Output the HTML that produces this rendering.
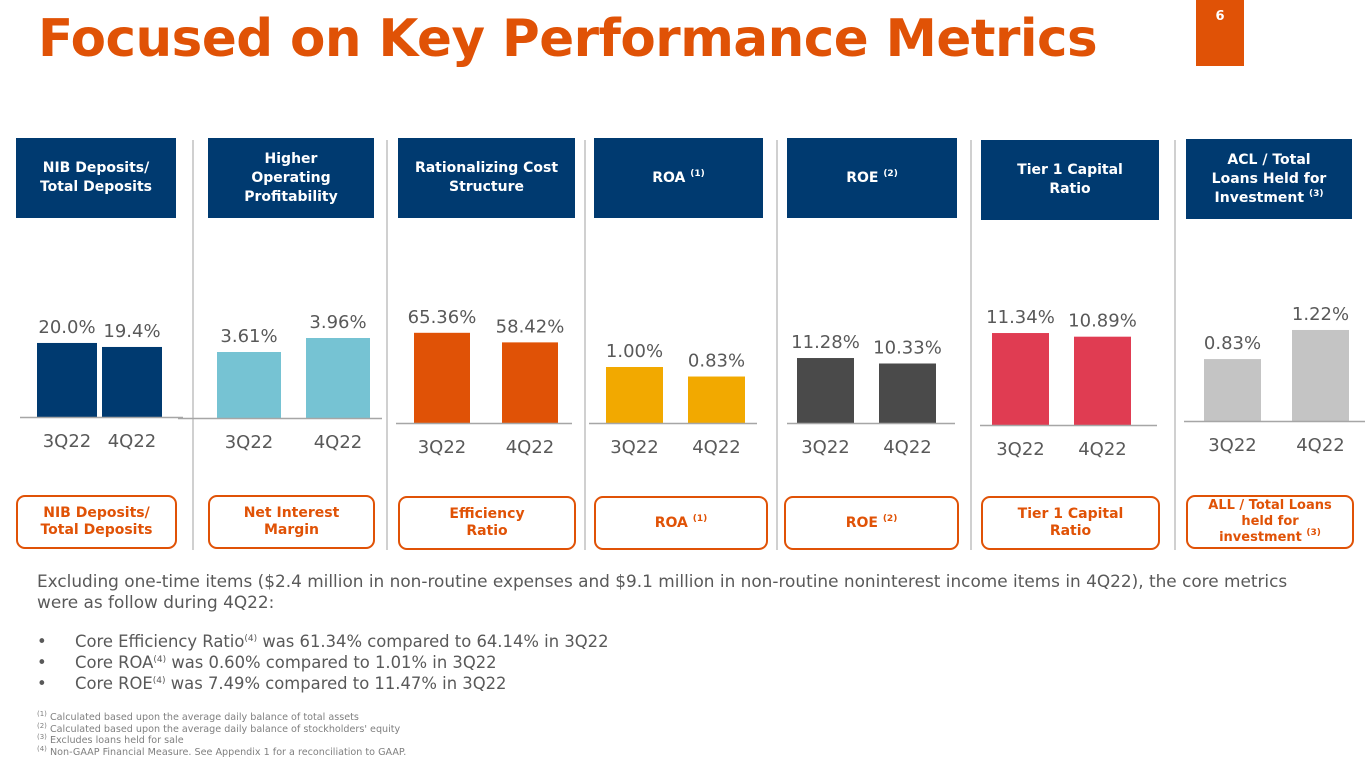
<!DOCTYPE html>
<html><head><meta charset="utf-8">
<style>
*{margin:0;padding:0;box-sizing:border-box}
body{width:1365px;height:768px;background:#fff;position:relative;overflow:hidden;font-family:"DejaVu Sans","Liberation Sans",sans-serif}
.abs{position:absolute}
#title{left:38px;top:9px;font-size:51.5px;font-weight:bold;color:#E05206;letter-spacing:-0.5px;white-space:nowrap}
#pg{left:1196px;top:0;width:48px;height:66px;background:#E05206;color:#fff;font-size:13px;font-weight:bold;text-align:center;padding-top:9px}
.hdr{background:#003A70;color:#fff;font-weight:bold;font-size:14px;line-height:19px;display:flex;align-items:center;justify-content:center;text-align:center}
.ftr{border:2px solid #E05206;border-radius:9px;color:#E05206;font-weight:bold;font-size:14px;line-height:17px;display:flex;align-items:center;justify-content:center;text-align:center;background:#fff}
sup{font-size:9px;vertical-align:6px;line-height:0}
.div{width:2px;background:#d0d0d0;top:140px;height:410px}
#body{left:37px;top:571px;width:1285px;font-size:16.9px;color:#595959;line-height:21px}
.bl{left:75px;font-size:16.4px;color:#595959;white-space:nowrap}
.bl span.b{position:absolute;left:-38px}
#notes{left:37px;top:712px;font-size:9.6px;color:#7f7f7f;line-height:11.5px}
#notes sup{font-size:7px;vertical-align:4px}
</style></head><body>
<div id="title" class="abs">Focused on Key Performance Metrics</div>
<div id="pg" class="abs">6</div>

<div class="abs hdr" style="left:16px;top:138px;width:160px;height:80px"><span>NIB Deposits/<br>Total Deposits</span></div>
<div class="abs hdr" style="left:208px;top:138px;width:166px;height:80px"><span>Higher<br>Operating<br>Profitability</span></div>
<div class="abs hdr" style="left:398px;top:138px;width:177px;height:80px"><span>Rationalizing Cost<br>Structure</span></div>
<div class="abs hdr" style="left:594px;top:138px;width:169px;height:80px"><span>ROA <sup>(1)</sup></span></div>
<div class="abs hdr" style="left:787px;top:138px;width:170px;height:80px"><span>ROE <sup>(2)</sup></span></div>
<div class="abs hdr" style="left:981px;top:140px;width:178px;height:80px"><span>Tier 1 Capital<br>Ratio</span></div>
<div class="abs hdr" style="left:1186px;top:139px;width:166px;height:80px"><span>ACL / Total<br>Loans Held for<br>Investment <sup>(3)</sup></span></div>

<div class="abs div" style="left:192px"></div>
<div class="abs div" style="left:386px"></div>
<div class="abs div" style="left:584px"></div>
<div class="abs div" style="left:776px"></div>
<div class="abs div" style="left:970px"></div>
<div class="abs div" style="left:1174px"></div>

<div class="abs ftr" style="left:16px;top:495px;width:161px;height:54px"><span>NIB Deposits/<br>Total Deposits</span></div>
<div class="abs ftr" style="left:208px;top:495px;width:167px;height:54px"><span>Net Interest<br>Margin</span></div>
<div class="abs ftr" style="left:398px;top:496px;width:178px;height:54px"><span>Efficiency<br>Ratio</span></div>
<div class="abs ftr" style="left:594px;top:496px;width:174px;height:54px"><span>ROA <sup>(1)</sup></span></div>
<div class="abs ftr" style="left:784px;top:496px;width:175px;height:54px"><span>ROE <sup>(2)</sup></span></div>
<div class="abs ftr" style="left:981px;top:496px;width:179px;height:54px"><span>Tier 1 Capital<br>Ratio</span></div>
<div class="abs ftr" style="left:1186px;top:495px;width:168px;height:54px;font-size:13px;line-height:16px"><span>ALL / Total Loans<br>held for<br>investment <sup>(3)</sup></span></div>

<svg class="abs" style="left:0;top:0" width="1365" height="768" id="charts"></svg>

<div id="body" class="abs">Excluding one-time items ($2.4 million in non-routine expenses and $9.1 million in non-routine noninterest income items in 4Q22), the core metrics<br>were as follow during 4Q22:</div>
<div class="abs bl" style="top:632px"><span class="b">•</span>Core Efficiency Ratio<sup>(4)</sup> was 61.34% compared to 64.14% in 3Q22</div>
<div class="abs bl" style="top:653px"><span class="b">•</span>Core ROA<sup>(4)</sup> was 0.60% compared to 1.01% in 3Q22</div>
<div class="abs bl" style="top:674px"><span class="b">•</span>Core ROE<sup>(4)</sup> was 7.49% compared to 11.47% in 3Q22</div>
<div id="notes" class="abs">
<div><sup>(1)</sup> Calculated based upon the average daily balance of total assets</div>
<div><sup>(2)</sup> Calculated based upon the average daily balance of stockholders' equity</div>
<div><sup>(3)</sup> Excludes loans held for sale</div>
<div><sup>(4)</sup> Non-GAAP Financial Measure. See Appendix 1 for a reconciliation to GAAP.</div>
</div>

<script>
const categories = ["3Q22", "4Q22"];
const nibValues = [20.0, 19.4];
const nimValues = [3.61, 3.96];
const effValues = [65.36, 58.42];
const roaValues = [1.00, 0.83];
const roeValues = [11.28, 10.33];
const tier1Values = [11.34, 10.89];
const aclValues = [0.83, 1.22];
const decimals = [1, 2, 2, 2, 2, 2, 2];
const axisMins = [8.9, 1.96, 0, 0, 0, 0, 0];

const series = [nibValues, nimValues, effValues, roaValues, roeValues, tier1Values, aclValues];
const colors = ["#003A70", "#76C3D3", "#E05206", "#F2A900", "#4A4A4A", "#E03C52", "#C4C4C4"];
const names = ["nib", "nim", "efficiency", "roa", "roe", "tier1", "acl"];
const layout = [
  {base:417, ax0:20, ax1:183, bx:[37,102], bw:60, k:6.67},
  {base:418, ax0:178, ax1:382, bx:[217,306], bw:64, k:40},
  {base:423, ax0:396, ax1:572, bx:[414,502], bw:56, k:1.38},
  {base:423, ax0:589, ax1:757, bx:[606,688], bw:57, k:56},
  {base:423, ax0:787, ax1:955, bx:[797,879], bw:57, k:5.76},
  {base:425, ax0:980, ax1:1157, bx:[992,1074], bw:57, k:8.11},
  {base:421, ax0:1184, ax1:1365, bx:[1204,1292], bw:57, k:74.6}
];
const NS = "http://www.w3.org/2000/svg";
const svg = document.getElementById("charts");
function yScale(p, v){ const L = layout[p]; return L.base - (v - axisMins[p]) * L.k; }
function mk(tag, attrs){ const e = document.createElementNS(NS, tag); for (const a in attrs) e.setAttribute(a, attrs[a]); return e; }
series.forEach((vals, p) => {
  const L = layout[p];
  vals.forEach((v, i) => {
    const top = yScale(p, v);
    const r = mk("rect", {x:L.bx[i], y:top, width:L.bw, height:L.base - top, fill:colors[p]});
    
    
    svg.appendChild(r);
    const t = mk("text", {x:L.bx[i] + L.bw/2, y:top - 10, "text-anchor":"middle", "font-size":"18", fill:"#595959", "font-family":"DejaVu Sans, Liberation Sans, sans-serif"});
    t.textContent = v.toFixed(decimals[p]) + "%";
    
    
    svg.appendChild(t);
    const c = mk("text", {x:L.bx[i] + L.bw/2, y:L.base + 30, "text-anchor":"middle", "font-size":"18", fill:"#595959", "font-family":"DejaVu Sans, Liberation Sans, sans-serif"});
    c.textContent = categories[i];
    
    
    svg.appendChild(c);
  });
  const ax = mk("line", {x1:L.ax0, x2:L.ax1, y1:L.base + 0.5, y2:L.base + 0.5, stroke:"#a6a6a6", "stroke-width":"1.5"});
  
  
  svg.appendChild(ax);
});
</script>
</body></html>
